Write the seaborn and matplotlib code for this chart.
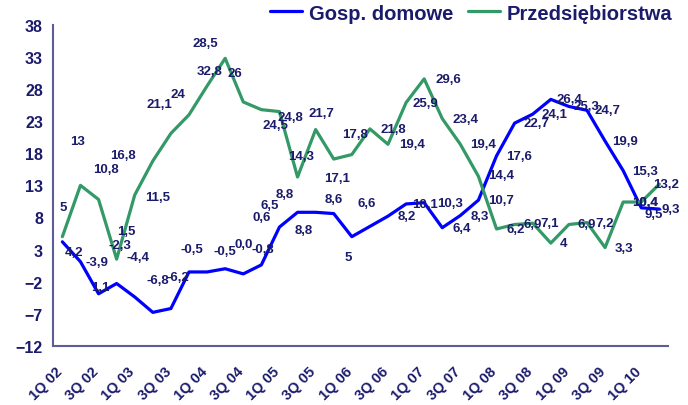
import pandas as pd
import seaborn as sns
import matplotlib.pyplot as plt
import matplotlib.transforms as mtransforms

quarters = ['1Q 02', '2Q 02', '3Q 02', '4Q 02', '1Q 03', '2Q 03', '3Q 03', '4Q 03',
            '1Q 04', '2Q 04', '3Q 04', '4Q 04', '1Q 05', '2Q 05', '3Q 05', '4Q 05',
            '1Q 06', '2Q 06', '3Q 06', '4Q 06', '1Q 07', '2Q 07', '3Q 07', '4Q 07',
            '1Q 08', '2Q 08', '3Q 08', '4Q 08', '1Q 09', '2Q 09', '3Q 09', '4Q 09',
            '1Q 10', '2Q 10']

gosp = [4.2, 1.1, -3.9, -2.3, -4.4, -6.8, -6.2, -0.5, -0.5, 0.0, -0.8, 0.6,
        6.5, 8.8, 8.8, 8.6, 5, 6.6, 8.2, 10.1, 10.3, 6.4, 8.3, 10.7,
        17.6, 22.7, 24.1, 26.4, 25.3, 24.7, 19.9, 15.3, 9.5, 9.3]

przed = [5, 13, 10.8, 1.5, 11.5, 16.8, 21.1, 24, 28.5, 32.8, 26, 24.8,
         24.5, 14.3, 21.7, 17.1, 17.8, 21.8, 19.4, 25.9, 29.6, 23.4, 19.4, 14.4,
         6.2, 6.9, 7.1, 4, 6.9, 7.2, 3.3, 10.4, 10.4, 13.2]

series_names = ['Gosp. domowe', 'Przedsiębiorstwa']

# label offsets in pixels (dx, dy downwards), copied from where the labels sit
gosp_off = [(12, 10), (20, 25), (-2, -32), (3, -39), (3, -40), (5, -32), (7, -32),
            (3, -23), (18, -21), (19, -25), (20, -25), (0, -48), (-10, -22),
            (-13, -18), (-12, 18), (0, -15), (-4, 20), (-3, -23), (19, 0), (19, 0),
            (26, 0), (19, 0), (19, 0), (23, 0), (23, 0), (22, 0), (22, 0), (19, 0),
            (18, 0), (21, 0), (20, 0), (22, 0), (12, 6), (11, 0)]
przed_off = [(1, -30), (-3, -44), (7, -30), (10, -28), (23, 2), (-30, -6), (-12, -29),
             (-11, -21), (-2, -43), (-16, 13), (-8, -29), (29, 7), (-4, 13), (4, -21),
             (6, -17), (3, 19), (3, -21), (23, 0), (24, 0), (19, 0), (24, 0), (23, 0),
             (23, 0), (23, -1), (19, 0), (18, 0), (17, 0), (13, 0), (18, 0), (18, 0),
             (19, 0), (22, 0), (4, 0), (7, 0)]

navy = '#1b1b6b'
axis_col = '#5c5c99'

sns.set_style('white')
plt.rcParams['font.family'] = ['Liberation Sans', 'DejaVu Sans']

n = len(quarters)
df = pd.DataFrame({
    'idx': list(range(n)) * 2,
    'value': gosp + przed,
    'series': [series_names[0]] * n + [series_names[1]] * n,
})

fig = plt.figure(figsize=(6.88, 4.06), dpi=100)
ax = fig.add_axes([0.0775, 0.146, 0.894, 0.79])

sns.lineplot(data=df, x='idx', y='value', hue='series', hue_order=series_names,
             palette=['#0000ff', '#339966'], linewidth=2.3, ax=ax, legend=True)


def fmt(v):
    if v != 0 and v == int(v):
        return str(int(v))
    return f'{v:.1f}'.replace('.', ',')


for vals, offs in [(przed, przed_off), (gosp, gosp_off)]:
    for i, (v, (dx, dy)) in enumerate(zip(vals, offs)):
        ax.annotate(fmt(v), (i, v), xytext=(dx, -dy), textcoords='offset pixels',
                    ha='center', va='center', fontsize=9.5, fontweight='bold',
                    color=navy)

ax.set_xlim(-0.5, n - 0.5)
ax.set_ylim(-12, 38)
ax.set_yticks(range(-12, 39, 5))
ax.set_xticks(range(0, n, 2))
ax.set_xticklabels(quarters[0::2], rotation=45, ha='right', va='top',
                   rotation_mode='anchor', fontweight='bold', color=navy, fontsize=10.5)
ax.set_xticks([i - 0.5 for i in range(n + 1)], minor=True)
ax.tick_params(axis='x', which='major', length=0, pad=9)
ax.tick_params(axis='x', which='minor', length=4, color=axis_col, width=1.2, direction='out')
ax.tick_params(axis='y', length=4, color=axis_col, width=1.2, direction='out',
               labelsize=11.5, labelcolor=navy)
for lab in ax.get_yticklabels():
    lab.set_fontweight('bold')

# nudge rotated quarter labels, as in the original
shift = mtransforms.ScaledTranslation(-7 / 100, -6 / 100, fig.dpi_scale_trans)
for lab in ax.get_xticklabels():
    lab.set_transform(lab.get_transform() + shift)

ax.set_xlabel('')
ax.set_ylabel('')
for s in ['top', 'right']:
    ax.spines[s].set_visible(False)
for s in ['left', 'bottom']:
    ax.spines[s].set_color(axis_col)
    ax.spines[s].set_linewidth(1.5)

ax.legend(loc='center', bbox_to_anchor=(0.685, 0.9655), bbox_transform=fig.transFigure,
          ncol=2, frameon=False, handlelength=1.6, columnspacing=0.7, handletextpad=0.35,
          prop={'weight': 'bold', 'size': 14.5}, labelcolor=navy)

fig.savefig('out.png', dpi=100)
